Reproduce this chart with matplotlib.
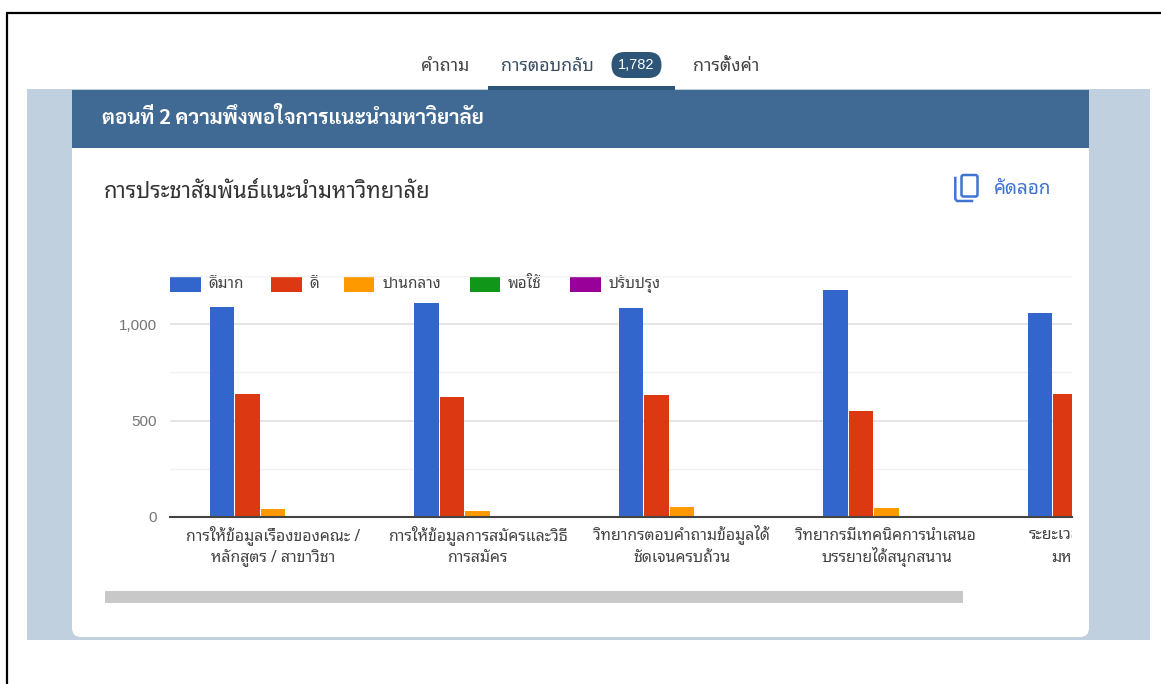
import matplotlib
matplotlib.use("Agg")
import matplotlib.pyplot as plt
from matplotlib.patches import Rectangle, FancyBboxPatch
from matplotlib.transforms import Bbox, TransformedBbox
import numpy as np

thai = ["Noto Sans Thai Looped", "Noto Sans Thai", "Liberation Sans"]
plt.rcParams["font.family"] = thai

### data
categories = [
    "การให้ข้อมูลเรื่องของคณะ /\nหลักสูตร / สาขาวิชา",
    "การให้ข้อมูลการสมัครและวิธี\nการสมัคร",
    "วิทยากรตอบคำถามข้อมูลได้\nชัดเจนครบถ้วน",
    "วิทยากรมีเทคนิคการนำเสนอ\nบรรยายได้สนุกสนาน",
    "ระยะเวลาการแนะนำ\nมหาวิทยาลัย",
]
series_names = ["ดีมาก", "ดี", "ปานกลาง", "พอใช้", "ปรับปรุง"]
very_good = [1090, 1110, 1086, 1176, 1058]
good = [639, 620, 634, 551, 639]
medium = [40, 33, 53, 47, 60]
fair = [0, 0, 0, 0, 0]
improve = [0, 0, 0, 0, 0]
y_major = [0, 500, 1000]
y_minor = [250, 750, 1250]
y_labels = ["0", "500", "1,000"]
colors = ["#3366cc", "#dc3912", "#ff9900", "#109618", "#990099"]

W, H = 1161, 684
fig = plt.figure(figsize=(W / 100, H / 100), dpi=100, facecolor="white")

### page behind the chart, in pixels
bg = fig.add_axes([0, 0, 1, 1])
bg.set_xlim(0, W)
bg.set_ylim(H, 0)
bg.axis("off")

bg.add_patch(Rectangle((27, 89), 1123, 551, color="#c0d0de", lw=0))
bg.add_patch(FancyBboxPatch((72, 130), 1017, 507, boxstyle="round,pad=0,rounding_size=9",
                            fc="white", ec="none", lw=0))
bg.add_patch(Rectangle((72, 89.5), 1017, 58.5, color="#406a94", lw=0))
bg.plot([6.5, 6.5], [13, H], color="black", lw=1.6, solid_capstyle="butt")
bg.plot([6, W], [13.2, 13.2], color="black", lw=1.6, solid_capstyle="butt")

### tabs
bg.text(445, 66, "คำถาม", ha="center", va="center", fontsize=12.8, color="#444444")
bg.text(547.5, 66, "การตอบกลับ", ha="center", va="center", fontsize=12.8, color="#3c4f62")
bg.add_patch(FancyBboxPatch((611.5, 52), 50, 26, boxstyle="round,pad=0,rounding_size=13",
                            fc="#2d5578", ec="none", lw=0))
bg.text(636.5, 65, "1,782", ha="center", va="center", fontsize=10.5, color="white",
        family="Liberation Sans")
bg.text(726.5, 66, "การตั้งค่า", ha="center", va="center", fontsize=12.8, color="#444444")
bg.add_patch(Rectangle((488, 86), 186.5, 3.5, color="#2d5578", lw=0))

### header and card title
bg.text(102.5, 118, "ตอนที่ 2 ความพึงพอใจการแนะนำมหาวิยาลัย", ha="left", va="center",
        fontsize=14.8, color="white", weight="bold", family="Sarabun")
bg.text(104, 192.5, "การประชาสัมพันธ์แนะนำมหาวิทยาลัย", ha="left", va="center",
        fontsize=15.8, color="#333333")

### copy button
icon = "#3f74d1"
bg.add_patch(FancyBboxPatch((961.5, 175), 16, 21.5, boxstyle="round,pad=0,rounding_size=2",
                            fc="none", ec=icon, lw=1.8))
bg.plot([955.3, 955.3, 957, 972], [178, 199, 201, 201], color=icon, lw=1.8)
bg.text(993.5, 189, "คัดลอก", ha="left", va="center", fontsize=13.6, color=icon)

### scrollbar
bg.add_patch(Rectangle((105, 590.5), 858, 12, color="#c8c8c8", lw=0))

### chart
ax = fig.add_axes([169.5 / W, 1 - 517 / H, (1072 - 169.5) / W, (517 - 276) / H])
ax.patch.set_alpha(0)
ax.set_ylim(0, 1250)
ax.set_xlim(-0.506, 3.907)
ax.set_xticks([])
ax.set_yticks(y_major)
ax.set_yticklabels(y_labels, family="Liberation Sans", fontsize=11, color="#757575")
ax.set_yticks(y_minor, minor=True)
ax.tick_params(axis="y", which="both", length=0, pad=9)
ax.grid(axis="y", which="major", color="#e3e3e3", lw=1.3)
ax.grid(axis="y", which="minor", color="#f1f1f1", lw=1.0)
ax.set_axisbelow(True)
for s in ["top", "right", "left"]:
    ax.spines[s].set_visible(False)
ax.spines["bottom"].set_color("#444444")
ax.spines["bottom"].set_linewidth(1.5)

x = np.arange(len(categories))
values = [very_good, good, medium, fair, improve]
pitch = 0.125
for i in range(5):
    ax.bar(x + (i - 2) * pitch, values[i], width=0.12, color=colors[i], lw=0)

### category labels, the last one runs off the scroll area
clip = TransformedBbox(Bbox([[0, -0.4], [1, 1]]), ax.transAxes)
for i in range(len(categories)):
    lines = categories[i].split("\n")
    for j in range(len(lines)):
        t = ax.annotate(lines[j], (x[i], 0), xytext=(0, -16.5 - 16 * j), textcoords="offset points",
                        xycoords=ax.get_xaxis_transform(), ha="center", va="baseline",
                        fontsize=11.4, color="#444444", annotation_clip=False)
        t.set_clip_on(True)
        t.set_clip_box(clip)

### legend
legend_x = [170, 271, 343.7, 469.6, 570]
for i in range(5):
    bg.add_patch(Rectangle((legend_x[i], 276.7), 30.5, 15, color=colors[i], lw=0))
    bg.text(legend_x[i] + 38.5, 284, series_names[i], ha="left", va="center",
            fontsize=11, color="#444444")
bg.set_zorder(0)
ax.set_zorder(1)

fig.savefig("out.png", dpi=100)
